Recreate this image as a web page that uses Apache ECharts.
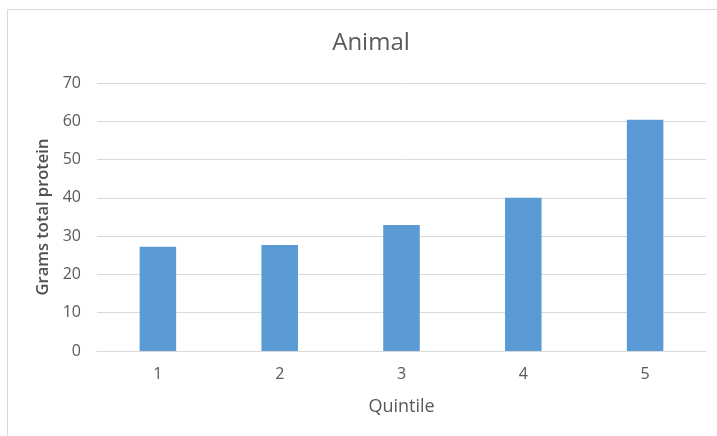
<!DOCTYPE html>
<html><head><meta charset="utf-8">
<script src="https://cdn.jsdelivr.net/npm/echarts@6/dist/echarts.min.js"></script>
<style>html,body{margin:0;padding:0;background:#fff}#c{width:717px;height:436px}</style>
</head><body><div id="c"></div>
<script>
const categories = ['1', '2', '3', '4', '5'];
const values = [27.2, 27.7, 32.9, 40.0, 60.4];
const chart = echarts.init(document.getElementById('c'));
chart.setOption({
  animation: false,
  backgroundColor: '#fff',
  title: {
    text: 'Animal', left: 366, top: 26, textAlign: 'center',
    textStyle: { fontFamily: 'Open Sans', fontSize: 24, fontWeight: 'normal', color: '#595959' }
  },
  graphic: [{
    type: 'rect', shape: { x: 7.5, y: 9.5, width: 720, height: 440 },
    style: { fill: 'none', stroke: '#D9D9D9', lineWidth: 1 }, silent: true
  }],
  grid: { left: 97, right: 11, top: 83, bottom: 85 },
  xAxis: {
    type: 'category', data: categories,
    name: 'Quintile', nameLocation: 'middle', nameGap: 47,
    nameTextStyle: { fontFamily: 'Open Sans', fontSize: 18, color: '#595959' },
    axisLine: { lineStyle: { color: '#D9D9D9' } },
    axisTick: { show: false },
    axisLabel: { fontFamily: 'Open Sans', fontSize: 16, color: '#595959', margin: 15 }
  },
  yAxis: {
    type: 'value', min: 0, max: 70, interval: 10,
    name: 'Grams total protein', nameLocation: 'middle', nameGap: 41, nameRotate: 90,
    nameTextStyle: { fontFamily: 'Open Sans', fontSize: 16.5, fontWeight: 600, color: '#505050' },
    axisLine: { show: false }, axisTick: { show: false },
    axisLabel: { fontFamily: 'Open Sans', fontSize: 16, color: '#595959', margin: 16 },
    splitLine: { lineStyle: { color: '#D9D9D9' } }
  },
  series: [{
    type: 'bar', data: values, barWidth: '30%',
    itemStyle: { color: '#5B9BD5' }
  }]
});
</script></body></html>
